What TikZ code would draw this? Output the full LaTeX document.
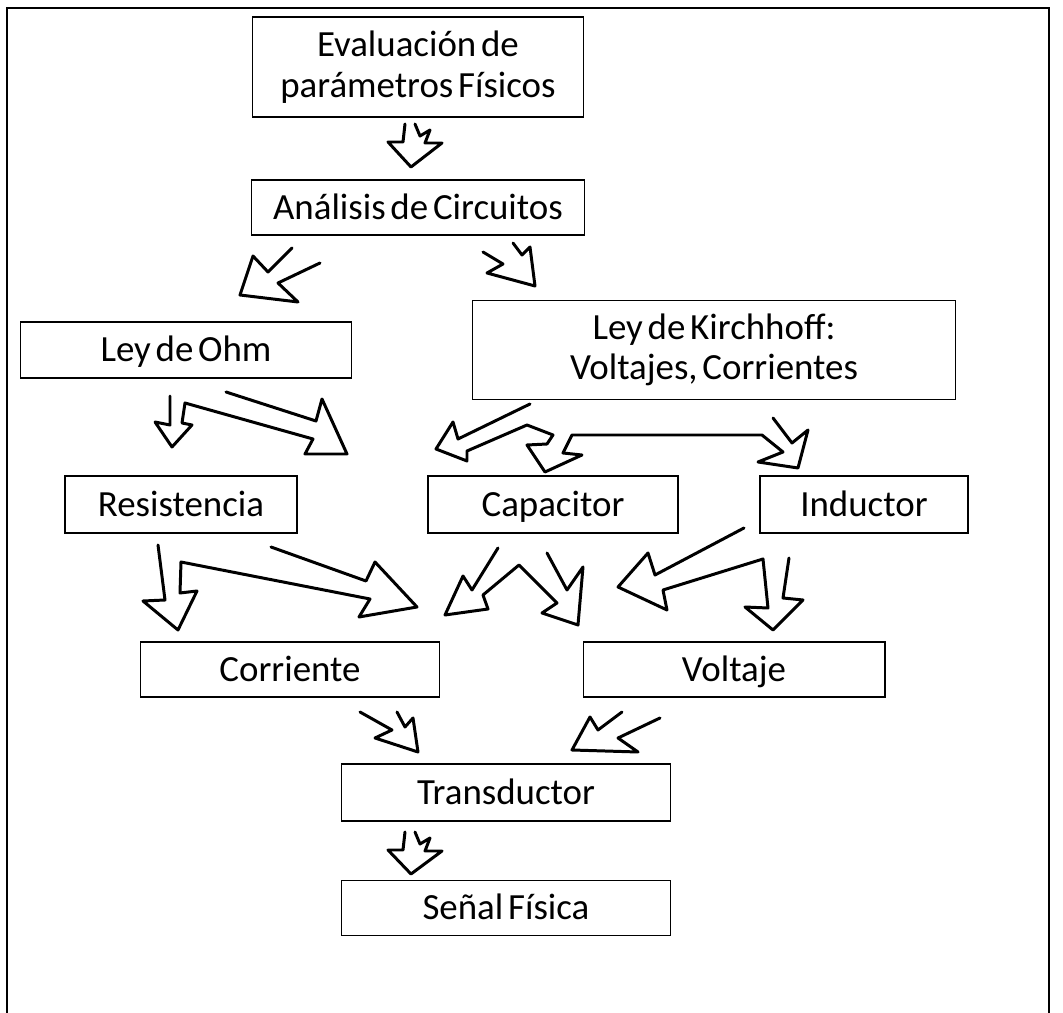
\documentclass[tikz,border=0pt]{standalone}
\usepackage{fontspec}
\setmainfont{Carlito}
\usepackage{tikz}
\usetikzlibrary{positioning}

\begin{document}
\begin{tikzpicture}[
    x=0.02cm, y=-0.02cm,
    box/.style={draw, line width=0.6pt, inner sep=0pt, align=center,
        font=\fontsize{21}{23}\selectfont,
        execute at begin node={\spaceskip=0.13em plus 0.05em\relax}},
    onebox/.style={box, text height=13.5pt, text depth=0pt},
    bolt/.style={draw, line width=1.7pt, line join=round, line cap=round},
]
    \useasboundingbox (0,0) rectangle (1063,1013);

    % Frame
    \draw[line width=1.1pt] (7,1013) -- (7,8) -- (1049,8) -- (1049,1013);

    % Boxes
    \node[box, minimum width=6.64cm, minimum height=2cm] (eval) at (418,67)
        {Evaluación de\\parámetros Físicos};
    \node[onebox, minimum width=6.68cm, minimum height=1.1cm] (circ) at (418,207.5)
        {Análisis de Circuitos};
    \node[onebox, minimum width=6.64cm, minimum height=1.12cm] (ohm) at (186,350)
        {Ley de Ohm};
    \node[box, minimum width=9.66cm, minimum height=1.98cm] (kirch) at (714,350)
        {Ley de Kirchhoff:\\Voltajes, Corrientes};
    \node[onebox, minimum width=4.64cm, minimum height=1.14cm] (res) at (181,504.5)
        {Resistencia};
    \node[onebox, minimum width=5cm, minimum height=1.14cm] (cap) at (553,504.5)
        {Capacitor};
    \node[onebox, minimum width=4.16cm, minimum height=1.14cm] (ind) at (864,504.5)
        {Inductor};
    \node[onebox, minimum width=6cm, minimum height=1.1cm] (corr) at (290,669.5)
        {Corriente};
    \node[onebox, minimum width=6.04cm, minimum height=1.1cm] (volt) at (734,669.5)
        {Voltaje};
    \node[onebox, minimum width=6.6cm, minimum height=1.14cm] (trans) at (506,792.5)
        {Transductor};
    \node[onebox, minimum width=6.6cm, minimum height=1.1cm] (senal) at (506,908)
        {Señal Física};

    % Evaluacion -> Analisis
    \draw[bolt] (405,124) -- (403,142) -- (388,142) -- (411,167) -- (442,143)
        -- (425,143) -- (430,130) -- (420,136) -- (415,124);

    % Analisis -> Ohm
    \draw[bolt] (292,248) -- (268,272) -- (253,256) -- (240,295) -- (298,302)
        -- (278,283) -- (320,263);

    % Analisis -> Kirchhoff
    \draw[bolt] (483,252) -- (503,264) -- (487,273) -- (535,286) -- (530,247)
        -- (522,255) -- (513,243);

    % Ohm -> Resistencia, Capacitor
    \draw[bolt] (170,396) -- (170,425) -- (155,422) -- (172,447) -- (192,425)
        -- (182,423) -- (185,403) -- (313,439) -- (305,454) -- (347,454)
        -- (322,399) -- (316,421) -- (226,392);

    % Kirchhoff -> Capacitor, Inductor
    \draw[bolt] (530,404) -- (458,439) -- (453,422) -- (436,449) -- (467,461)
        -- (467,451) -- (527,425) -- (553,435) -- (547,444) -- (527,445)
        -- (545,472) -- (582,455) -- (563,453) -- (572,435) -- (762,435)
        -- (783,452) -- (758,462) -- (798,468) -- (808,430) -- (792,443)
        -- (773,418);

    % Resistencia -> Corriente, Voltaje
    \draw[bolt] (158,545) -- (165,600) -- (143,601) -- (178,630) -- (197,591)
        -- (180,593) -- (181,562) -- (370,599) -- (359,617) -- (417,607)
        -- (375,562) -- (366,581) -- (271,547);

    % Capacitor -> Corriente, Voltaje
    \draw[bolt] (498,548) -- (472,590) -- (463,576) -- (445,615) -- (488,609)
        -- (483,595) -- (519,565) -- (557,603) -- (542,613) -- (578,625)
        -- (583,567) -- (567,590) -- (547,553);

    % Inductor -> Corriente, Voltaje
    \draw[bolt] (744,528) -- (655,575) -- (648,553) -- (618,587) -- (667,610)
        -- (663,590) -- (763,559) -- (768,608) -- (745,607) -- (773,630)
        -- (803,600) -- (783,598) -- (789,558);

    % Corriente -> Transductor
    \draw[bolt] (360,712) -- (392,730) -- (375,738) -- (418,752) -- (413,718)
        -- (405,727) -- (397,712);

    % Voltaje -> Transductor
    \draw[bolt] (622,712) -- (598,730) -- (590,717) -- (572,750) -- (638,752)
        -- (618,738) -- (660,718);

    % Transductor -> Senal
    \draw[bolt] (405,832) -- (403,850) -- (388,850) -- (411,874) -- (442,851)
        -- (425,851) -- (430,838) -- (420,844) -- (415,832);
\end{tikzpicture}
\end{document}
